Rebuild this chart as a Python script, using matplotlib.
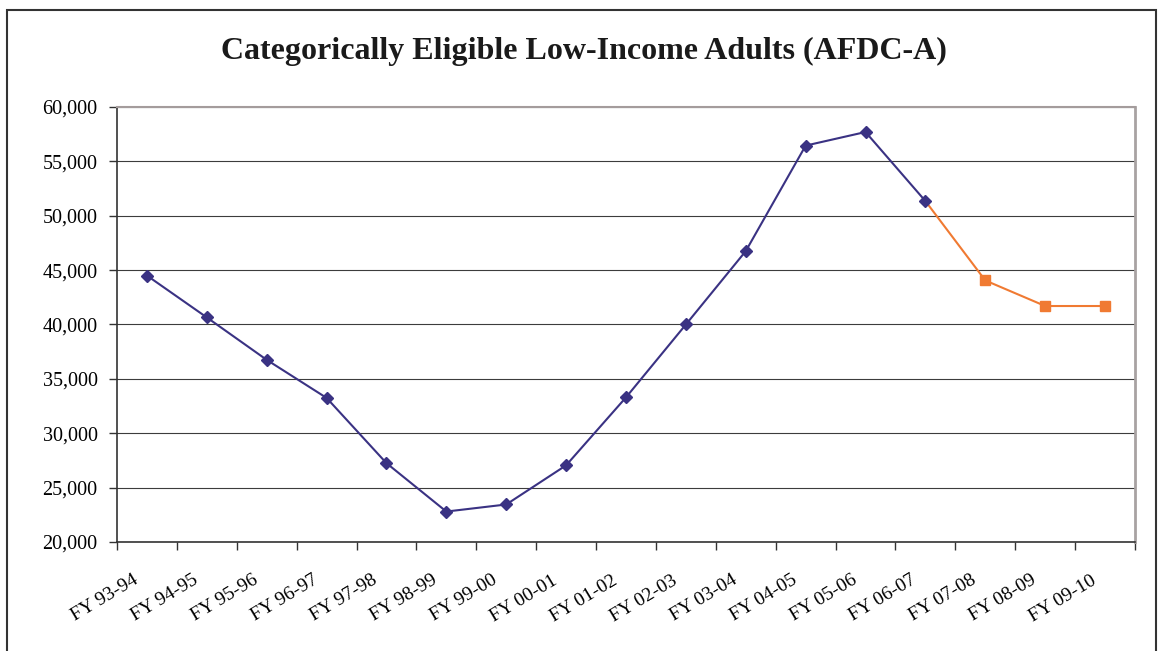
import matplotlib
matplotlib.use("Agg")
import matplotlib.pyplot as plt
from matplotlib.patches import Rectangle
from matplotlib.transforms import ScaledTranslation
import numpy as np

# Fiscal years on the x axis
years = ["FY 93-94", "FY 94-95", "FY 95-96", "FY 96-97", "FY 97-98", "FY 98-99",
         "FY 99-00", "FY 00-01", "FY 01-02", "FY 02-03", "FY 03-04", "FY 04-05",
         "FY 05-06", "FY 06-07", "FY 07-08", "FY 08-09", "FY 09-10"]

# Actual caseload, FY 93-94 through FY 06-07
actual = [44500, 40650, 36750, 33250, 27250, 22800, 23450, 27050, 33300,
          40000, 46750, 56450, 57700, 51350]

# Projected caseload, continuing from FY 06-07
projected = [51350, 44050, 41700, 41700]

plt.rcParams["font.family"] = ["Liberation Serif", "DejaVu Serif"]

fig = plt.figure(figsize=(11.6, 6.51), dpi=100)
ax = fig.add_axes([117 / 1160, 1 - 542 / 651, (1135 - 117) / 1160, (542 - 107) / 651])

x_act = np.arange(len(actual))
x_proj = np.arange(len(actual) - 1, len(years))

ax.plot(x_proj, projected, color="#F07A32", lw=1.5, zorder=3)
ax.plot(x_proj[1:], projected[1:], ls="none", marker="s", ms=7,
        color="#F07A32", zorder=4)
ax.plot(x_act, actual, color="#3A3283", lw=1.5, marker="D", ms=5.8,
        markerfacecolor="#3A3283", markeredgecolor="#3A3283", zorder=5)

ax.set_xlim(-0.5, len(years) - 0.5)
ax.set_ylim(20000, 60000)
ax.set_yticks(np.arange(20000, 60001, 5000))
ax.set_yticklabels([f"{v:,}" for v in range(20000, 60001, 5000)], fontsize=14.5)
ax.grid(axis="y", color="#3c3c3c", lw=0.8)
ax.set_axisbelow(True)

# category labels at centres, tick marks on the boundaries
ax.set_xticks(np.arange(len(years)))
ax.set_xticklabels(years, rotation=31, ha="right", va="baseline",
                   rotation_mode="anchor", fontsize=14)
ax.tick_params(axis="x", which="major", length=0, pad=0)
shift = ScaledTranslation(-8 / 100, -41 / 100, fig.dpi_scale_trans)
for lab in ax.get_xticklabels():
    lab.set_transform(lab.get_transform() + shift)
ax.set_xticks(np.arange(-0.5, len(years)), minor=True)
ax.tick_params(axis="x", which="minor", length=6, width=1, color="#333333")
ax.tick_params(axis="y", length=6, width=1, color="#333333", pad=8)

for side in ("left", "bottom"):
    ax.spines[side].set_color("#333333")
    ax.spines[side].set_linewidth(1.2)
ax.spines["top"].set_color("#a49c9c")
ax.spines["top"].set_linewidth(1.5)
ax.spines["right"].set_color("#a8a2a2")
ax.spines["right"].set_linewidth(2)

fig.text(0.503, 0.921, "Categorically Eligible Low-Income Adults (AFDC-A)",
         ha="center", va="center", fontsize=23, fontweight="bold", color="#1a1a1a")

# outer chart frame, open at the bottom edge of the image
fig.patches.append(Rectangle((7 / 1160, -0.05), (1156 - 7) / 1160, 1.05 - 10 / 651,
                             transform=fig.transFigure, fill=False,
                             edgecolor="#333333", lw=1.5))

fig.savefig("out.png", dpi=100)
